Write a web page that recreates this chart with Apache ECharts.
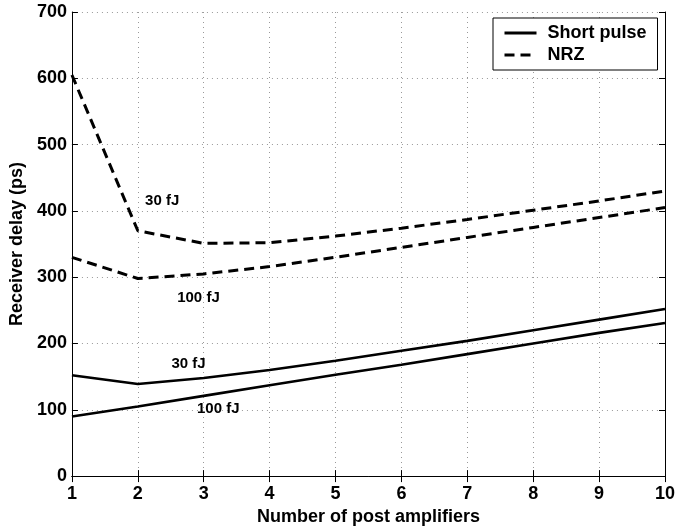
<!DOCTYPE html>
<html><head><meta charset="utf-8">
<script src="https://cdn.jsdelivr.net/npm/echarts@6/dist/echarts.min.js"></script>
<style>html,body{margin:0;padding:0;background:#fff}#c{width:696px;height:531px}</style>
</head><body><div id="c"></div>
<script>
const xValues = [1, 2, 3, 4, 5, 6, 7, 8, 9, 10];
const shortPulse30 = [152, 139, 148, 160, 174, 189, 204, 220, 236, 252];
const shortPulse100 = [90, 105, 121, 137, 153, 168, 184, 200, 216, 231];
const nrz30 = [605, 370, 351, 352, 362, 374, 387, 401, 415, 430];
const nrz100 = [330, 298, 305, 316, 330, 345, 360, 375, 390, 405];
const yTicks = [0, 100, 200, 300, 400, 500, 600, 700];
const annotations = [
  {text: '30 fJ', x: 2.37, y: 415},
  {text: '100 fJ', x: 2.92, y: 269},
  {text: '30 fJ', x: 2.77, y: 170},
  {text: '100 fJ', x: 3.22, y: 101}
];

const FONT = 'Liberation Sans';
const pairs = arr => xValues.map((x, i) => [x, arr[i]]);
const solid = {color: '#000', width: 2.6, type: 'solid'};
const dashed = {color: '#000', width: 3, type: [10, 6]};

const chart = echarts.init(document.getElementById('c'), null, {renderer: 'canvas'});
const axisCommon = {
  axisLine: {show: true, lineStyle: {color: '#000', width: 1}},
  axisTick: {show: true, inside: true, length: 6, lineStyle: {color: '#000'}},
};
chart.setOption({
  animation: false,
  backgroundColor: '#fff',
  grid: {left: 69, right: 31, top: 12, bottom: 49},
  legend: {
    left: 493, top: 18, orient: 'vertical',
    data: ['Short pulse', 'NRZ'],
    backgroundColor: '#fff', borderColor: '#000', borderWidth: 1,
    padding: [6, 11, 6, 10], itemGap: 4, itemWidth: 32, itemHeight: 14,
    itemStyle: {opacity: 0},
    lineStyle: {width: 3},
    textStyle: {fontFamily: FONT, fontWeight: 'bold', fontSize: 18, color: '#000', padding: [0, 0, 0, 6]}
  },
  xAxis: [{
    type: 'value', min: 1, max: 10, interval: 1,
    name: 'Number of post amplifiers', nameLocation: 'middle', nameGap: 26,
    nameTextStyle: {fontFamily: FONT, fontWeight: 'bold', fontSize: 18, color: '#000'},
    axisLabel: {fontFamily: FONT, fontWeight: 'bold', fontSize: 18, color: '#000', margin: 9},
    splitLine: {show: true, lineStyle: {color: '#999', type: [1, 4], width: 1}},
    ...axisCommon
  }, {
    type: 'value', min: 1, max: 10, interval: 1, position: 'top',
    axisLabel: {show: false}, splitLine: {show: false}, ...axisCommon
  }],
  yAxis: [{
    type: 'value', min: yTicks[0], max: yTicks[yTicks.length - 1], interval: 100,
    name: 'Receiver delay (ps)', nameLocation: 'middle', nameGap: 39,
    nameTextStyle: {fontFamily: FONT, fontWeight: 'bold', fontSize: 18, color: '#000'},
    axisLabel: {fontFamily: FONT, fontWeight: 'bold', fontSize: 18, color: '#000', margin: 5},
    splitLine: {show: true, lineStyle: {color: '#999', type: [1, 4], width: 1}},
    ...axisCommon
  }, {
    type: 'value', min: yTicks[0], max: yTicks[yTicks.length - 1], interval: 100, position: 'right',
    axisLabel: {show: false}, splitLine: {show: false}, ...axisCommon
  }],
  series: [
    {name: 'Short pulse', type: 'line', data: pairs(shortPulse30), symbol: 'none', lineStyle: solid, itemStyle: {color: '#000'}},
    {name: 'Short pulse', type: 'line', data: pairs(shortPulse100), symbol: 'none', lineStyle: solid, itemStyle: {color: '#000'}},
    {name: 'NRZ', type: 'line', data: pairs(nrz30), symbol: 'none', lineStyle: dashed, itemStyle: {color: '#000'}},
    {name: 'NRZ', type: 'line', data: pairs(nrz100), symbol: 'none', lineStyle: dashed, itemStyle: {color: '#000'},
     markPoint: {
       symbol: 'circle', symbolSize: 0, silent: true,
       label: {show: true, position: 'inside', formatter: p => p.name,
         fontFamily: FONT, fontWeight: 'bold', fontSize: 15, color: '#000'},
       data: annotations.map(a => ({name: a.text, coord: [a.x, a.y]}))
     }}
  ]
});
</script></body></html>
